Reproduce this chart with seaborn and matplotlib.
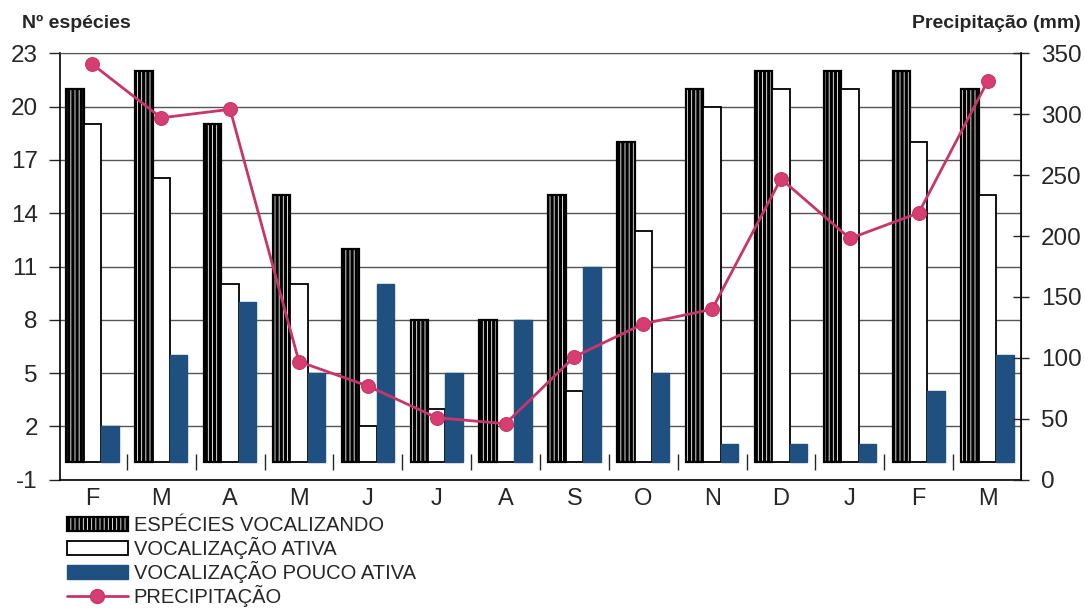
import matplotlib
matplotlib.use('Agg')
import matplotlib.pyplot as plt
import matplotlib.patches as mpatches
import matplotlib.lines as mlines
import pandas as pd
import seaborn as sns

months = ['F', 'M', 'A', 'M', 'J', 'J', 'A', 'S', 'O', 'N', 'D', 'J', 'F', 'M']
especies = [21, 22, 19, 15, 12, 8, 8, 15, 18, 21, 22, 22, 22, 21]
ativa = [19, 16, 10, 10, 2, 3, 0, 4, 13, 20, 21, 21, 18, 15]
pouco_ativa = [2, 6, 9, 5, 10, 5, 8, 11, 5, 1, 1, 1, 4, 6]
precip = [341, 297, 304, 97, 77, 51, 46, 101, 128, 140, 247, 198, 219, 327]
series = ['ESPÉCIES VOCALIZANDO', 'VOCALIZAÇÃO ATIVA', 'VOCALIZAÇÃO POUCO ATIVA']

sns.set_style('white')
plt.rcParams['font.family'] = ['Liberation Sans', 'DejaVu Sans']
plt.rcParams['hatch.linewidth'] = 2.4
plt.rcParams['axes.unicode_minus'] = False

n = len(months)
pos = list(range(n))
df = pd.DataFrame({
    'pos': pos * 3,
    'serie': [series[0]] * n + [series[1]] * n + [series[2]] * n,
    'valor': especies + ativa + pouco_ativa,
})

blue = '#1f5080'
red = '#c8356a'

fig = plt.figure(figsize=(10.85, 6.12), dpi=100)
ax = fig.add_axes([0.0553, 0.216, 0.886, 0.697])
sns.barplot(data=df, x='pos', y='valor', hue='serie', hue_order=series,
            palette=['white', 'white', blue], width=0.76, saturation=1,
            errorbar=None, legend=False, ax=ax)

for bar in ax.containers[0]:
    bar.set_facecolor('white')
    bar.set_edgecolor('black')
    bar.set_hatch('||||')
    bar.set_linewidth(1.6)
for bar in ax.containers[1]:
    bar.set_facecolor('white')
    bar.set_edgecolor('black')
    bar.set_linewidth(1.3)
for bar in ax.containers[2]:
    bar.set_edgecolor(blue)

ax.set_ylim(-1, 23)
ax.set_yticks(range(-1, 24, 3))
ax.set_xlim(-0.47, 13.49)
ax.set_xticks(pos)
ax.set_xticklabels(months)
ax.set_xlabel('')
ax.set_ylabel('')
ax.tick_params(axis='x', length=0, pad=6, labelsize=17)
ax.tick_params(axis='y', direction='out', length=8, width=1, pad=8,
               labelsize=17.5, left=True)
ax.grid(axis='y', color='#555555', lw=1)
ax.set_axisbelow(True)
for s in ['left', 'bottom']:
    ax.spines[s].set_color('black')
    ax.spines[s].set_linewidth(1.2)
ax.spines['top'].set_color('#555555')

# small separator ticks between month groups, on the zero line
sec = ax.secondary_xaxis(1 / 24)
sec.set_xticks([p + 0.5 for p in pos[:-1]])
sec.tick_params(axis='x', direction='inout', length=12, width=1,
                labelbottom=False, labeltop=False, bottom=True, top=False)
sec.spines['bottom'].set_visible(False)
sec.spines['top'].set_visible(False)

ax2 = ax.twinx()
sns.lineplot(x=pos, y=precip, ax=ax2, color=red, lw=2, marker='o',
             markersize=10, markeredgecolor=red, markerfacecolor='#d63d70',
             legend=False)
ax2.set_ylim(0, 350)
ax2.set_yticks(range(0, 351, 50))
ax2.tick_params(axis='y', direction='inout', length=12, width=1, pad=8,
                labelsize=17.5, right=True)
for s in ['left', 'bottom', 'top']:
    ax2.spines[s].set_visible(False)
ax2.spines['right'].set_color('black')
ax2.spines['right'].set_linewidth(1.2)

fig.text(0.02, 0.962, 'Nº espécies', fontsize=14, fontweight='bold', va='center')
fig.text(0.996, 0.962, 'Precipitação (mm)', fontsize=14, fontweight='bold',
         va='center', ha='right')

handles = [
    mpatches.Patch(facecolor='white', edgecolor='black', hatch='||||', lw=1.6),
    mpatches.Patch(facecolor='white', edgecolor='black', lw=1.3),
    mpatches.Patch(facecolor=blue, edgecolor=blue),
    mlines.Line2D([], [], color=red, lw=2, marker='o', markersize=10,
                  markerfacecolor='#d63d70', markeredgecolor=red),
]
labels = series + ['PRECIPITAÇÃO']
fig.legend(handles, labels, loc='upper left', bbox_to_anchor=(0.062, 0.157),
           frameon=False, fontsize=14.5, handlelength=3, handleheight=0.7,
           handletextpad=0.3, labelspacing=0.1, borderpad=0, borderaxespad=0)

fig.savefig('out.png', dpi=100)
